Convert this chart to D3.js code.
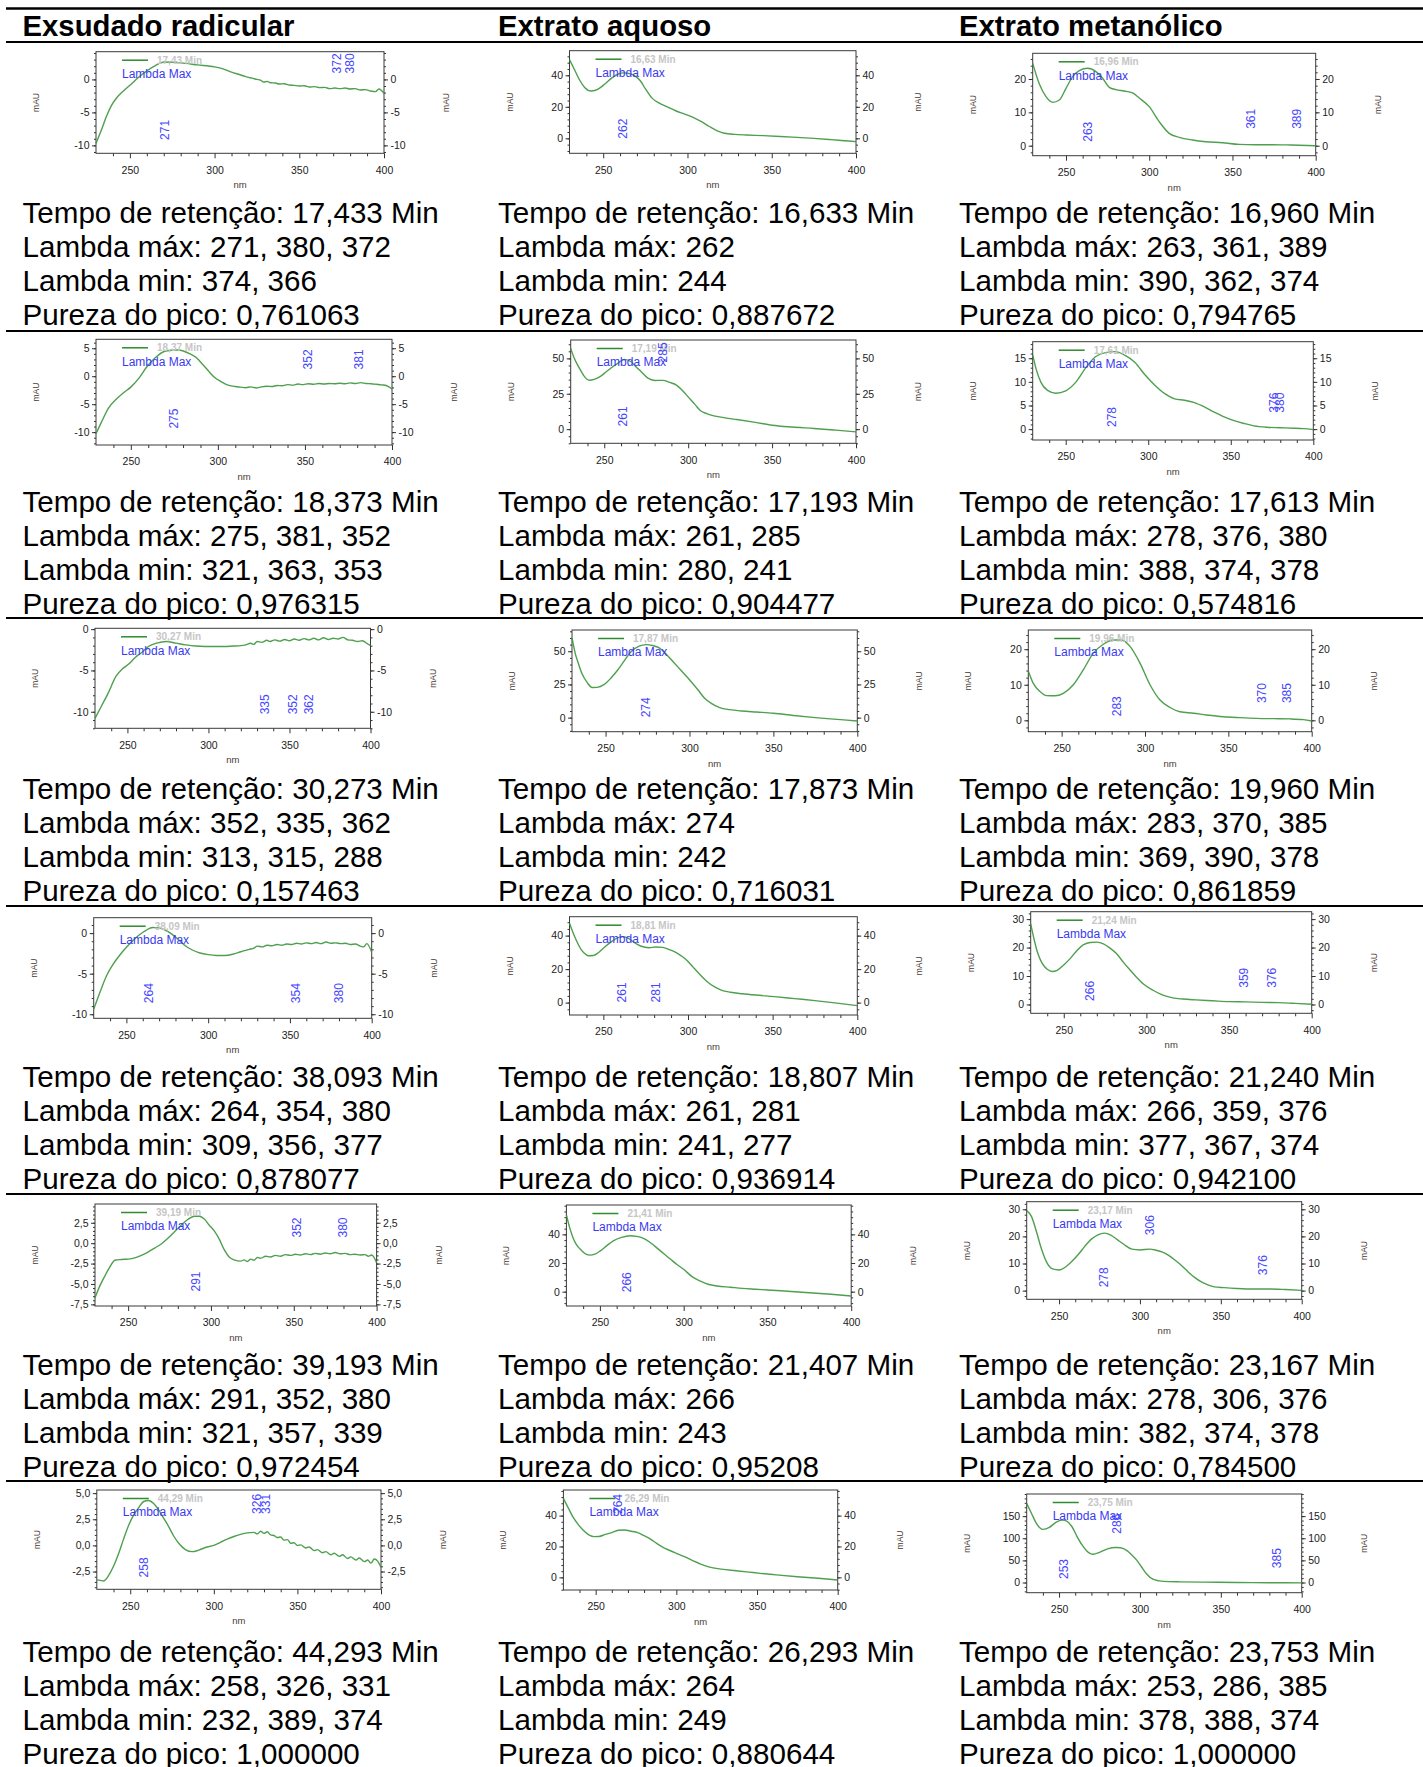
<!DOCTYPE html>
<html>
<head>
<meta charset="utf-8">
<script src="https://cdn.jsdelivr.net/npm/d3@7"></script>
<style>
  body { margin: 0; background: #fff; }
  svg { display: block; }
</style>
</head>
<body>
<svg id="fig"></svg>
<script>
// ---------- column titles ----------
const colunas = ["Exsudado radicular", "Extrato aquoso", "Extrato metanólico"];

// ---------- UV spectra, [nm, mAU] ----------
const exsudado1 = [[230,-9.7],[233,-7.8],[236,-5.7],[239,-4.0],[242,-2.85],[246,-1.8],[250,-0.9],[255,0.3],[260,1.3],[265,2.1],[270,2.65],[275,2.6],[280,2.5],[290,2.2],[300,1.9],[305,1.6],[310,1.1],[315,0.7],[318,0.45],[320,0.3],[322,0.2],[325,0.0],[327,-0.1],[329,-0.4],[331,-0.3],[333,-0.5],[336,-0.55],[338,-0.7],[341,-0.65],[344,-0.85],[347,-0.9],[350,-1.0],[353,-0.95],[356,-1.15],[359,-1.1],[362,-1.25],[365,-1.2],[368,-1.4],[371,-1.3],[374,-1.4],[377,-1.3],[380,-1.45],[383,-1.4],[386,-1.6],[389,-1.55],[392,-1.75],[395,-1.85],[397,-1.45],[400,-2.1]];
const exsudado2 = [[230,-10.3],[233,-8.3],[237,-5.8],[242,-4.0],[246,-2.9],[250,-1.95],[255,-0.2],[259,1.6],[264,3.3],[270,4.5],[277,4.7],[284,4.0],[288,3.2],[291,2.2],[295,0.8],[298,-0.2],[302,-1.0],[305,-1.5],[310,-1.85],[313,-1.95],[316,-2.05],[319,-1.9],[322,-2.1],[325,-1.9],[328,-1.8],[331,-1.85],[334,-1.65],[337,-1.7],[340,-1.5],[343,-1.6],[346,-1.4],[349,-1.5],[352,-1.35],[355,-1.45],[358,-1.3],[361,-1.4],[364,-1.3],[367,-1.35],[370,-1.25],[373,-1.35],[376,-1.2],[379,-1.3],[382,-1.15],[385,-1.3],[388,-1.35],[391,-1.45],[394,-1.55],[397,-1.7],[400,-2.3]];
const exsudado3 = [[230,-10.8],[234,-9.3],[238,-7.8],[243,-5.7],[247,-4.8],[251,-4.2],[255,-3.4],[259,-2.8],[263,-2.1],[268,-1.7],[274,-1.5],[280,-1.7],[286,-1.9],[292,-2.05],[298,-2.1],[304,-2.1],[310,-2.1],[315,-2.05],[320,-2.0],[323,-1.9],[326,-1.7],[328,-1.85],[330,-1.5],[333,-1.6],[336,-1.35],[338,-1.5],[341,-1.3],[344,-1.45],[347,-1.25],[350,-1.4],[353,-1.2],[356,-1.35],[359,-1.15],[362,-1.3],[365,-1.1],[368,-1.3],[371,-1.05],[374,-1.25],[377,-1.1],[380,-1.2],[383,-1.0],[386,-1.3],[389,-1.35],[392,-1.5],[395,-1.4],[398,-1.75],[400,-2.0]];
const exsudado4 = [[230,-9.4],[234,-7.2],[238,-5.2],[242,-3.8],[246,-2.7],[250,-1.75],[254,-0.9],[258,-0.2],[262,0.35],[266,0.7],[270,0.65],[274,0.35],[278,-0.15],[282,-0.85],[286,-1.55],[290,-2.05],[295,-2.45],[300,-2.65],[305,-2.75],[310,-2.75],[315,-2.6],[320,-2.3],[325,-2.0],[328,-1.85],[330,-1.6],[333,-1.7],[336,-1.5],[339,-1.55],[342,-1.4],[345,-1.5],[348,-1.35],[351,-1.4],[354,-1.25],[357,-1.35],[360,-1.2],[363,-1.3],[366,-1.15],[369,-1.3],[372,-1.1],[375,-1.25],[378,-1.2],[381,-1.3],[384,-1.25],[387,-1.4],[390,-1.35],[393,-1.6],[395,-1.7],[397,-1.3],[400,-2.35]];
const exsudado5 = [[230,-6.7],[233,-5.2],[236,-4.0],[239,-2.9],[242,-2.1],[246,-2.0],[250,-1.95],[254,-1.8],[258,-1.5],[262,-1.1],[266,-0.6],[270,-0.1],[274,0.6],[278,1.4],[282,2.2],[286,2.9],[290,3.3],[293,3.3],[296,2.95],[299,2.2],[302,1.5],[305,0.5],[308,-0.8],[311,-1.7],[314,-2.05],[318,-2.2],[320,-2.05],[322,-2.25],[324,-1.95],[326,-2.1],[328,-1.75],[330,-1.85],[333,-1.6],[336,-1.7],[339,-1.5],[342,-1.6],[345,-1.4],[348,-1.5],[351,-1.35],[354,-1.45],[357,-1.3],[360,-1.4],[363,-1.25],[366,-1.35],[369,-1.2],[372,-1.3],[375,-1.15],[378,-1.3],[381,-1.25],[384,-1.4],[387,-1.35],[390,-1.45],[393,-1.4],[395,-1.6],[397,-1.45],[400,-2.4]];
const exsudado6 = [[230,-3.3],[232,-3.35],[234,-3.4],[237,-2.9],[240,-2.0],[243,-0.8],[246,0.6],[249,1.9],[252,2.9],[255,3.6],[258,4.2],[261,4.3],[264,4.0],[267,3.4],[270,2.6],[273,1.8],[276,0.9],[279,0.2],[283,-0.4],[287,-0.6],[291,-0.45],[295,-0.2],[300,0.0],[304,0.3],[308,0.6],[312,0.85],[316,1.05],[320,1.2],[324,1.25],[326,1.1],[328,1.35],[330,1.15],[332,1.3],[334,1.0],[336,0.95],[338,0.75],[340,0.8],[342,0.5],[344,0.55],[346,0.2],[348,0.25],[350,0.0],[352,0.05],[355,-0.25],[357,-0.15],[360,-0.5],[362,-0.4],[365,-0.7],[367,-0.6],[370,-0.9],[372,-0.75],[375,-1.05],[377,-0.9],[380,-1.25],[382,-1.1],[385,-1.4],[387,-1.2],[390,-1.55],[392,-1.4],[394,-1.7],[396,-1.3],[398,-1.5],[400,-2.1]];

const aquoso1 = [[230,49.9],[233,43.5],[236,37],[239,32.3],[243,30.0],[247,31.2],[251,34.5],[255,38.2],[259,40.8],[262,41.5],[266,41],[269,39.5],[272,36.5],[275,31.5],[279,25.5],[283,22.5],[288,20.0],[293,17.5],[298,15.5],[303,13.5],[308,10.8],[313,7.5],[318,4.6],[322,3.2],[328,2.5],[335,2.1],[345,1.7],[355,1.2],[365,0.6],[375,0.0],[385,-0.8],[393,-1.5],[400,-2.1]];
const aquoso2 = [[230,57.1],[232,50.5],[235,43.5],[238,37.5],[241,34.6],[244,35.2],[247,36.8],[250,39.4],[254,43.2],[258,46.5],[262,49.3],[266,47.6],[269,44.0],[272,40.6],[276,36.0],[280,34.4],[285,34.5],[289,33.0],[293,31.1],[297,26.8],[300,22.8],[304,17.5],[307,13.4],[311,11.0],[316,9.2],[322,8.0],[329,6.8],[340,4.8],[350,2.8],[362,1.5],[375,0.5],[388,-0.7],[400,-1.9]];
const aquoso3 = [[230,60],[232,48],[234,40],[236,33],[239,26.5],[242,22.7],[245,22.8],[249,24.8],[253,29.5],[257,35.5],[261,42.5],[265,49.5],[270,53.8],[274,55],[278,54.3],[282,52.5],[286,48],[290,42.5],[295,35.5],[300,28.5],[305,21],[309,14.6],[313,10.8],[318,7.6],[324,6.0],[331,5.0],[340,4.2],[350,3.3],[362,1.6],[375,0.0],[388,-1.3],[400,-2.5]];
const aquoso4 = [[230,47.4],[232,42],[234,37.2],[237,31.5],[240,28.5],[241,28],[244,28.1],[247,29.8],[250,32.5],[254,35.8],[258,38.5],[261,39.4],[264,38.8],[267,36.8],[270,34.8],[274,33.2],[277,32.8],[281,33.2],[285,33.0],[289,31.6],[293,29.9],[297,27.2],[300,24.6],[303,21.2],[307,16.8],[311,12.8],[316,9.2],[320,7.3],[325,6.2],[332,5.3],[340,4.5],[351,3.6],[363,2.4],[375,1.2],[388,-0.3],[400,-1.8]];
const aquoso5 = [[230,53.5],[232,44.5],[234,37.5],[236,32.8],[239,28.8],[242,26],[244,25.5],[247,26.2],[250,28.3],[254,32.0],[258,35.5],[263,37.9],[268,39.0],[272,38.6],[276,37.2],[280,34.3],[284,30.6],[288,26.6],[292,22.8],[296,19.0],[300,15.6],[305,10.5],[310,7.3],[315,5.0],[320,4.0],[328,3.1],[335,2.3],[343,1.7],[350,1.2],[362,0.3],[375,-0.7],[388,-1.8],[400,-3.0]];
const aquoso6 = [[230,51.2],[233,45],[236,39],[239,34.5],[242,30.8],[246,27.4],[249,26.4],[252,26.5],[256,27.8],[260,29.0],[264,30.5],[268,30.7],[272,29.9],[276,29.0],[280,27.0],[284,24.8],[288,21.8],[292,19.3],[296,17.4],[300,15.6],[305,13.4],[310,10.9],[315,8.6],[320,6.8],[328,5.3],[337,4.3],[345,3.4],[352,2.6],[362,1.6],[375,0.4],[388,-0.6],[400,-1.7]];

const metanolico1 = [[230,24.7],[234,18.5],[238,14.7],[242,13.0],[246,13.7],[250,17.2],[254,20.7],[258,22.5],[263,23.2],[268,22.2],[272,20.2],[276,17.5],[280,16.8],[285,16.4],[290,15.8],[294,14.3],[300,11.7],[306,7.2],[312,3.7],[318,2.5],[326,1.7],[334,1.2],[344,0.9],[354,0.4],[364,0.3],[374,0.3],[385,0.2],[400,0]];
const metanolico2 = [[230,15.7],[232,12.8],[235,9.9],[239,8.2],[244,7.6],[250,8.1],[256,9.9],[262,12.9],[268,15.3],[274,16.2],[280,16.4],[286,15.6],[292,14.1],[298,11.5],[304,9.3],[310,7.5],[316,6.4],[322,6.1],[328,5.6],[334,4.7],[340,3.6],[346,2.6],[352,1.8],[358,1.2],[364,0.7],[372,0.4],[380,0.3],[388,0.2],[394,0.1],[400,-0.1]];
const metanolico3 = [[230,13.9],[233,10.4],[237,8.1],[241,6.95],[246,6.9],[251,7.6],[257,10.0],[263,14.2],[269,18.9],[275,21.4],[281,22.6],[286,22.6],[291,20.8],[297,16.1],[303,10.0],[309,5.7],[315,3.6],[321,2.4],[329,2.0],[337,1.5],[347,1.0],[357,0.75],[367,0.56],[377,0.47],[387,0.4],[395,0.2],[400,-0.2]];
const metanolico4 = [[230,28.3],[232,23.0],[234,18.5],[236,15.5],[238,13.6],[240,12.4],[243,11.6],[246,12.0],[250,13.9],[254,16.2],[258,19.0],[262,21.0],[266,21.8],[270,21.9],[274,21.3],[278,19.8],[282,17.8],[286,14.9],[290,12.2],[294,9.6],[298,7.3],[304,5.0],[310,3.3],[316,2.3],[322,1.9],[330,1.6],[340,1.3],[350,1.0],[360,0.9],[370,0.75],[380,0.65],[390,0.4],[400,0.1]];
const metanolico5 = [[230,29.5],[233,27.3],[236,21.8],[239,15.6],[242,10.9],[246,8.0],[250,7.6],[254,8.7],[258,10.8],[262,13.4],[266,16.4],[270,19.0],[274,20.6],[278,21.2],[282,20.5],[286,18.8],[290,17.1],[295,15.3],[300,15.0],[306,15.3],[310,14.9],[314,14.2],[318,12.9],[322,11.1],[326,9.1],[330,6.8],[334,4.8],[338,3.2],[342,2.1],[346,1.4],[352,1.1],[360,0.8],[370,0.6],[380,0.6],[390,0.4],[400,0.1]];
const metanolico6 = [[230,178.7],[233,156],[236,133.5],[240,120],[244,124.4],[248,136],[252,141],[255,138],[258,126],[261,105],[264,86],[267,72],[271,64],[275,68],[280,76],[285,79],[288,78.5],[292,72],[295,62],[298,50.5],[301,35],[304,20],[308,7.5],[312,3.8],[318,2.0],[325,1.5],[340,0.8],[360,0],[380,-0.4],[400,-0.8]];

// ---------- peak report (one entry per row) ----------
const tempoExsudado = ["17,433","18,373","30,273","38,093","39,193","44,293"];
const tempoAquoso = ["16,633","17,193","17,873","18,807","21,407","26,293"];
const tempoMetanolico = ["16,960","17,613","19,960","21,240","23,167","23,753"];

const lambdaMaxExsudado = [[271,380,372],[275,381,352],[352,335,362],[264,354,380],[291,352,380],[258,326,331]];
const lambdaMaxAquoso = [[262],[261,285],[274],[261,281],[266],[264]];
const lambdaMaxMetanolico = [[263,361,389],[278,376,380],[283,370,385],[266,359,376],[278,306,376],[253,286,385]];

const lambdaMinExsudado = [[374,366],[321,363,353],[313,315,288],[309,356,377],[321,357,339],[232,389,374]];
const lambdaMinAquoso = [[244],[280,241],[242],[241,277],[243],[249]];
const lambdaMinMetanolico = [[390,362,374],[388,374,378],[369,390,378],[377,367,374],[382,374,378],[378,388,374]];

const purezaExsudado = ["0,761063","0,976315","0,157463","0,878077","0,972454","1,000000"];
const purezaAquoso = ["0,887672","0,904477","0,716031","0,936914","0,95208","0,880644"];
const purezaMetanolico = ["0,794765","0,574816","0,861859","0,942100","0,784500","1,000000"];

// ---------- axis ticks and ranges (mAU) ----------
const ticksX = [250, 300, 350, 400];
const ticksExsudado = [[-10,-5,0],[-10,-5,0,5],[-10,-5,0],[-10,-5,0],[-7.5,-5,-2.5,0,2.5],[-2.5,0,2.5,5]];
const ticksAquoso = [[0,20,40],[0,25,50],[0,25,50],[0,20,40],[0,20,40],[0,20,40]];
const ticksMetanolico = [[0,10,20],[0,5,10,15],[0,10,20],[0,10,20,30],[0,10,20,30],[0,50,100,150]];

const faixaExsudado = [[-11.2,4.2],[-12.3,6.6],[-12,0.1],[-10.5,1.9],[-7.7,4.8],[-4.2,5.3]];
const faixaAquoso = [[-9.5,55.6],[-10,63],[-10.6,66],[-7.4,51.3],[-10,60.5],[-8.2,56.6]];
const faixaMetanolico = [[-3,27.7],[-2.3,18.5],[-3.2,25.4],[-3.1,32.6],[-3.2,32.8],[-23,200]];

// ---------- layout ----------
const W = 1423, H = 1767;
const topoLinhas = [42, 331, 618, 906, 1194, 1481];   // table rules, one per row top
const colX = [22.5, 498, 959];                         // text column starts
// plot frames [left, right, top, bottom] per row / column
const quadros = [
  [[96,384,51.7,153.3],[569.5,856,50.7,153.3],[1032.7,1315.7,53.3,155.7]],
  [[96,392,339.3,445],[570.7,856,340,443.3],[1032.7,1313.3,341.7,440]],
  [[95,370.5,628.3,728.3],[572,857.3,630,731.7],[1028.3,1311.7,630,731.7]],
  [[93.7,371.7,917.7,1018.3],[569.5,857.3,916.7,1015],[1030.7,1311.7,911.7,1013.3]],
  [[95,376.6,1204,1306],[566.4,851.2,1205,1306],[1026.7,1301.7,1201.7,1299.3]],
  [[96.8,381,1490,1589.3],[563.4,837.7,1490,1590],[1026.7,1301.7,1494,1592.7]]
];
// vertical placement of the peak wavelength tags (fraction of frame height)
const posRotulos = [
  [{271:.77,372:.115,380:.115},{262:.76},{263:.766,361:.64,389:.64}],
  [{275:.75,352:.19,381:.19},{261:.74,285:.12},{278:.766,376:.62,380:.62}],
  [{335:.76,352:.76,362:.76},{274:.76},{283:.75,370:.62,385:.62}],
  [{264:.75,354:.75,380:.75},{261:.77,281:.77},{266:.78,359:.65,376:.65}],
  [{291:.76,352:.23,380:.23},{266:.765},{278:.775,306:.24,376:.65}],
  [{258:.78,326:.14,331:.14},{264:.14},{253:.76,286:.30,385:.65}]
];

const colunasDados = [
  { espectros:[exsudado1,exsudado2,exsudado3,exsudado4,exsudado5,exsudado6], tempo:tempoExsudado,
    lmax:lambdaMaxExsudado, lmin:lambdaMinExsudado, pureza:purezaExsudado, ticks:ticksExsudado, faixa:faixaExsudado },
  { espectros:[aquoso1,aquoso2,aquoso3,aquoso4,aquoso5,aquoso6], tempo:tempoAquoso,
    lmax:lambdaMaxAquoso, lmin:lambdaMinAquoso, pureza:purezaAquoso, ticks:ticksAquoso, faixa:faixaAquoso },
  { espectros:[metanolico1,metanolico2,metanolico3,metanolico4,metanolico5,metanolico6], tempo:tempoMetanolico,
    lmax:lambdaMaxMetanolico, lmin:lambdaMinMetanolico, pureza:purezaMetanolico, ticks:ticksMetanolico, faixa:faixaMetanolico }
];

const FONT = "'Liberation Sans', Arial, Helvetica, sans-serif";
const ptBR = d3.formatLocale({decimal: ",", thousands: ".", grouping: [3], currency: ["R$", ""], minus: "-"});
const fmtInt = ptBR.format("d");
const fmtDec = ptBR.format(".1f");

const svg = d3.select("#fig").attr("width", W).attr("height", H)
  .style("font-family", FONT);
svg.append("rect").attr("width", W).attr("height", H).attr("fill", "#fff");

// ---------- table rules and headings ----------
svg.append("line").attr("x1", 6).attr("x2", W).attr("y1", 8.5).attr("y2", 8.5)
  .attr("stroke", "#000").attr("stroke-width", 2.6);
topoLinhas.forEach(y => {
  svg.append("line").attr("x1", 6).attr("x2", W).attr("y1", y).attr("y2", y)
    .attr("stroke", "#000").attr("stroke-width", 2);
});
colunas.forEach((c, i) => {
  svg.append("text").attr("x", colX[i]).attr("y", 36)
    .attr("font-size", 29.3).attr("font-weight", "bold").attr("fill", "#000").text(c);
});

// ---------- one spectrum panel ----------
function desenhaPainel(g, quadro, faixa, ticksY, espectro, tempo, lmax, rotulos) {
  const [x0, x1, y0, y1] = quadro;
  const x = d3.scaleLinear().domain([230, 400]).range([x0, x1]);
  const y = d3.scaleLinear().domain(faixa).range([y1, y0]);
  const decimal = ticksY.some(v => !Number.isInteger(v));
  const fmtY = decimal ? fmtDec : fmtInt;
  const passoMenor = (ticksY[1] - ticksY[0]) / 5;
  const menoresY = [];
  for (let v = Math.ceil(faixa[0] / passoMenor) * passoMenor; v <= faixa[1] + 1e-9; v += passoMenor) menoresY.push(+v.toFixed(4));
  const menoresX = [];
  for (let v = 240; v < 400; v += 10) if (!ticksX.includes(v)) menoresX.push(v);

  const estilo = sel => {
    sel.select(".domain").remove();
    sel.selectAll("line").attr("stroke", "#333").attr("stroke-width", 1);
    sel.selectAll("text").attr("fill", "#222").attr("font-size", 10.5).attr("font-family", FONT);
  };

  // minor ticks
  g.append("g").attr("transform", `translate(0,${y1})`)
    .call(d3.axisBottom(x).tickValues(menoresX).tickSize(3).tickFormat("")).call(estilo);
  g.append("g").attr("transform", `translate(${x0},0)`)
    .call(d3.axisLeft(y).tickValues(menoresY).tickSize(2).tickFormat("")).call(estilo);
  g.append("g").attr("transform", `translate(${x1},0)`)
    .call(d3.axisRight(y).tickValues(menoresY).tickSize(2).tickFormat("")).call(estilo);

  // major ticks with labels
  g.append("g").attr("transform", `translate(0,${y1})`)
    .call(d3.axisBottom(x).tickValues(ticksX).tickSize(5).tickPadding(8).tickFormat(fmtInt)).call(estilo);
  g.append("g").attr("transform", `translate(${x0},0)`)
    .call(d3.axisLeft(y).tickValues(ticksY).tickSize(4).tickPadding(2.5).tickFormat(fmtY)).call(estilo);
  g.append("g").attr("transform", `translate(${x1},0)`)
    .call(d3.axisRight(y).tickValues(ticksY).tickSize(4).tickPadding(2.5).tickFormat(fmtY)).call(estilo);

  // frame
  g.append("rect").attr("x", x0).attr("y", y0).attr("width", x1 - x0).attr("height", y1 - y0)
    .attr("fill", "none").attr("stroke", "#3a3a3a").attr("stroke-width", 1);

  // axis titles
  const cy = (y0 + y1) / 2;
  [[x0 - 60, cy], [x1 + 62, cy]].forEach(([tx, ty]) => {
    g.append("text").attr("transform", `translate(${tx},${ty}) rotate(-90)`)
      .attr("text-anchor", "middle").attr("dominant-baseline", "central")
      .attr("font-size", 8.5).attr("fill", "#4a3a33").text("mAU");
  });
  g.append("text").attr("x", (x0 + x1) / 2).attr("y", y1 + 35)
    .attr("text-anchor", "middle").attr("font-size", 9.5).attr("fill", "#4a3a33").text("nm");

  // spectrum
  const linha = d3.line().x(d => x(d[0])).y(d => y(d[1])).curve(d3.curveMonotoneX);
  g.append("path").datum(espectro).attr("d", linha)
    .attr("fill", "none").attr("stroke", "#3f973f").attr("stroke-width", 1.4)
    .attr("stroke-linejoin", "round").attr("opacity", 0.92);

  // legend
  const minutos = (+tempo.replace(",", ".")).toFixed(2).replace(".", ",") + " Min";
  g.append("line").attr("x1", x0 + 26).attr("x2", x0 + 52).attr("y1", y0 + 8.5).attr("y2", y0 + 8.5)
    .attr("stroke", "#2e8b2e").attr("stroke-width", 1.5);
  g.append("text").attr("x", x0 + 61).attr("y", y0 + 12).attr("font-size", 10)
    .attr("font-weight", "bold").attr("fill", "#c6c6c6").text(minutos);
  g.append("text").attr("x", x0 + 26).attr("y", y0 + 26.3).attr("font-size", 12)
    .attr("fill", "#3a3af0").text("Lambda Max");

  // peak wavelength tags
  lmax.forEach(l => {
    const f = rotulos[l];
    g.append("text")
      .attr("transform", `translate(${x(l)},${y0 + f * (y1 - y0)}) rotate(-90)`)
      .attr("text-anchor", "middle").attr("dominant-baseline", "central")
      .attr("font-size", 12).attr("fill", "#4646ff").text(l);
  });
}

// ---------- panels and peak report text ----------
topoLinhas.forEach((topo, r) => {
  colunasDados.forEach((col, c) => {
    const g = svg.append("g");
    desenhaPainel(g, quadros[r][c], col.faixa[r], col.ticks[r], col.espectros[r],
      col.tempo[r], col.lmax[r], posRotulos[r][c]);
    const linhasTexto = [
      `Tempo de retenção: ${col.tempo[r]} Min`,
      `Lambda máx: ${col.lmax[r].join(", ")}`,
      `Lambda min: ${col.lmin[r].join(", ")}`,
      `Pureza do pico: ${col.pureza[r]}`
    ];
    linhasTexto.forEach((t, k) => {
      svg.append("text").attr("x", colX[c]).attr("y", topo + 180.5 + k * 34)
        .attr("font-size", 29.6).attr("fill", "#000").text(t);
    });
  });
});
</script>
</body>
</html>
